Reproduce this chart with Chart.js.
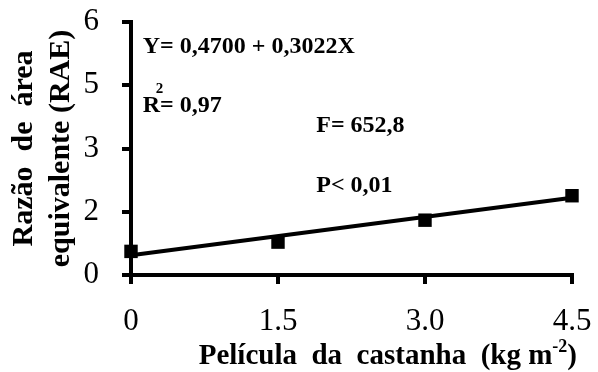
<!DOCTYPE html>
<html>
<head>
<meta charset="utf-8">
<script src="https://cdn.jsdelivr.net/npm/chart.js@4.4.1/dist/chart.umd.min.js"></script>
<style>
  html, body { margin: 0; padding: 0; background: #fff; }
  #wrap { width: 598px; height: 372px; position: relative; }
</style>
</head>
<body>
<div id="wrap"><canvas id="c"></canvas></div>
<script>
// Doses of Brazil-nut skin (kg m-2) and the land equivalent ratio observed at each dose
const doses = [0, 1.5, 3.0, 4.5];
const raeValues = [0.56, 0.78, 1.30, 1.88];

// Regression line Y = 0,4700 + 0,3022X at both ends of the dose range
const fitDoses = [0, 4.5];
const fitValues = [0.47, 1.83];

// Axis tick labels
const xTickLabels = ['0', '1.5', '3.0', '4.5'];
const yTickLabels = ['0', '2', '3', '5', '6'];

// Axis titles
const yTitleLines = ['Razão  de  área', 'equivalente (RAE)'];
const xTitleMain = 'Película  da  castanha  (kg m';
const xTitleSup = '-2';
const xTitleEnd = ')';

// Statistics printed inside the plot, anchored in data coordinates
const statNotes = [
  { text: 'Y= 0,4700 + 0,3022X', x: 0.12, y: 5.26 },
  { text: 'R= 0,97', x: 0.12, y: 3.86 },
  { text: 'F= 652,8', x: 1.89, y: 3.39 },
  { text: 'P< 0,01', x: 1.89, y: 1.96 }
];
const r2Sup = { text: '2', x: 0.29, y: 4.31 };

const serif = '"Liberation Serif", "Times New Roman", serif';

const textPlugin = {
  id: 'plotText',
  afterDraw(chart) {
    const { ctx, scales: { x, y }, chartArea } = chart;
    ctx.save();
    ctx.fillStyle = '#000';
    ctx.textBaseline = 'alphabetic';
    ctx.textAlign = 'left';

    ctx.font = 'bold 24px ' + serif;
    statNotes.forEach(n => {
      ctx.fillText(n.text, x.getPixelForValue(n.x), y.getPixelForValue(n.y));
    });
    ctx.font = 'bold 15px ' + serif;
    ctx.textAlign = 'center';
    ctx.fillText(r2Sup.text, x.getPixelForValue(r2Sup.x), y.getPixelForValue(r2Sup.y));

    // x-axis title with superscript exponent
    ctx.textAlign = 'left';
    const mainFont = 'bold 29px ' + serif;
    const supFont = 'bold 18px ' + serif;
    ctx.font = mainFont;
    const wMain = ctx.measureText(xTitleMain).width;
    const wEnd = ctx.measureText(xTitleEnd).width;
    ctx.font = supFont;
    const wSup = ctx.measureText(xTitleSup).width;
    const total = wMain + wSup + wEnd;
    const startX = chartArea.right + 5 - total;
    const baseY = chart.height - 8;
    ctx.font = mainFont;
    ctx.fillText(xTitleMain, startX, baseY);
    ctx.font = supFont;
    ctx.fillText(xTitleSup, startX + wMain, baseY - 12);
    ctx.font = mainFont;
    ctx.fillText(xTitleEnd, startX + wMain + wSup, baseY);
    ctx.restore();
  }
};

const axisLine = { display: true, width: 4, color: '#000' };
const tickGrid = {
  drawOnChartArea: false,
  drawTicks: true,
  tickLength: 9,
  tickWidth: 4,
  tickColor: '#000',
  color: '#000',
  lineWidth: 4
};

new Chart(document.getElementById('c'), {
  type: 'scatter',
  data: {
    datasets: [
      {
        label: 'Ajuste',
        data: fitDoses.map((d, i) => ({ x: d, y: fitValues[i] })),
        showLine: true,
        borderColor: '#000',
        borderWidth: 4,
        pointRadius: 0,
        clip: false,
        order: 2
      },
      {
        label: 'RAE',
        data: doses.map((d, i) => ({ x: d, y: raeValues[i] })),
        showLine: false,
        pointStyle: 'rect',
        pointRadius: 9.5,
        pointBackgroundColor: '#000',
        pointBorderColor: '#000',
        pointBorderWidth: 0,
        clip: false,
        order: 1
      }
    ]
  },
  options: {
    responsive: true,
    maintainAspectRatio: false,
    devicePixelRatio: 1,
    animation: false,
    layout: { padding: { top: 22, right: 26, bottom: 0, left: 0 } },
    plugins: { legend: { display: false }, tooltip: { enabled: false } },
    scales: {
      x: {
        type: 'linear',
        min: 0,
        max: 4.5,
        border: axisLine,
        grid: tickGrid,
        ticks: {
          stepSize: 1.5,
          padding: 19,
          color: '#000',
          font: { family: serif, size: 31 },
          maxRotation: 0,
          callback: (v, i) => xTickLabels[i]
        },
        afterFit: s => {
          s.height = 97;
          s.paddingLeft = 0;
          s.paddingRight = 0;
        }
      },
      y: {
        type: 'linear',
        min: 0,
        max: 6,
        border: axisLine,
        grid: tickGrid,
        ticks: {
          stepSize: 1.5,
          padding: 23,
          color: '#000',
          font: { family: serif, size: 31 },
          callback: (v, i) => yTickLabels[i]
        },
        title: {
          display: true,
          text: yTitleLines,
          color: '#000',
          font: { family: serif, size: 30, weight: 'bold', lineHeight: 1.22 },
          padding: { top: 6, bottom: 0 }
        },
        afterFit: s => {
          s.width = 131;
          s.paddingTop = 0;
          s.paddingBottom = 0;
        }
      }
    }
  },
  plugins: [textPlugin]
});
</script>
</body>
</html>
